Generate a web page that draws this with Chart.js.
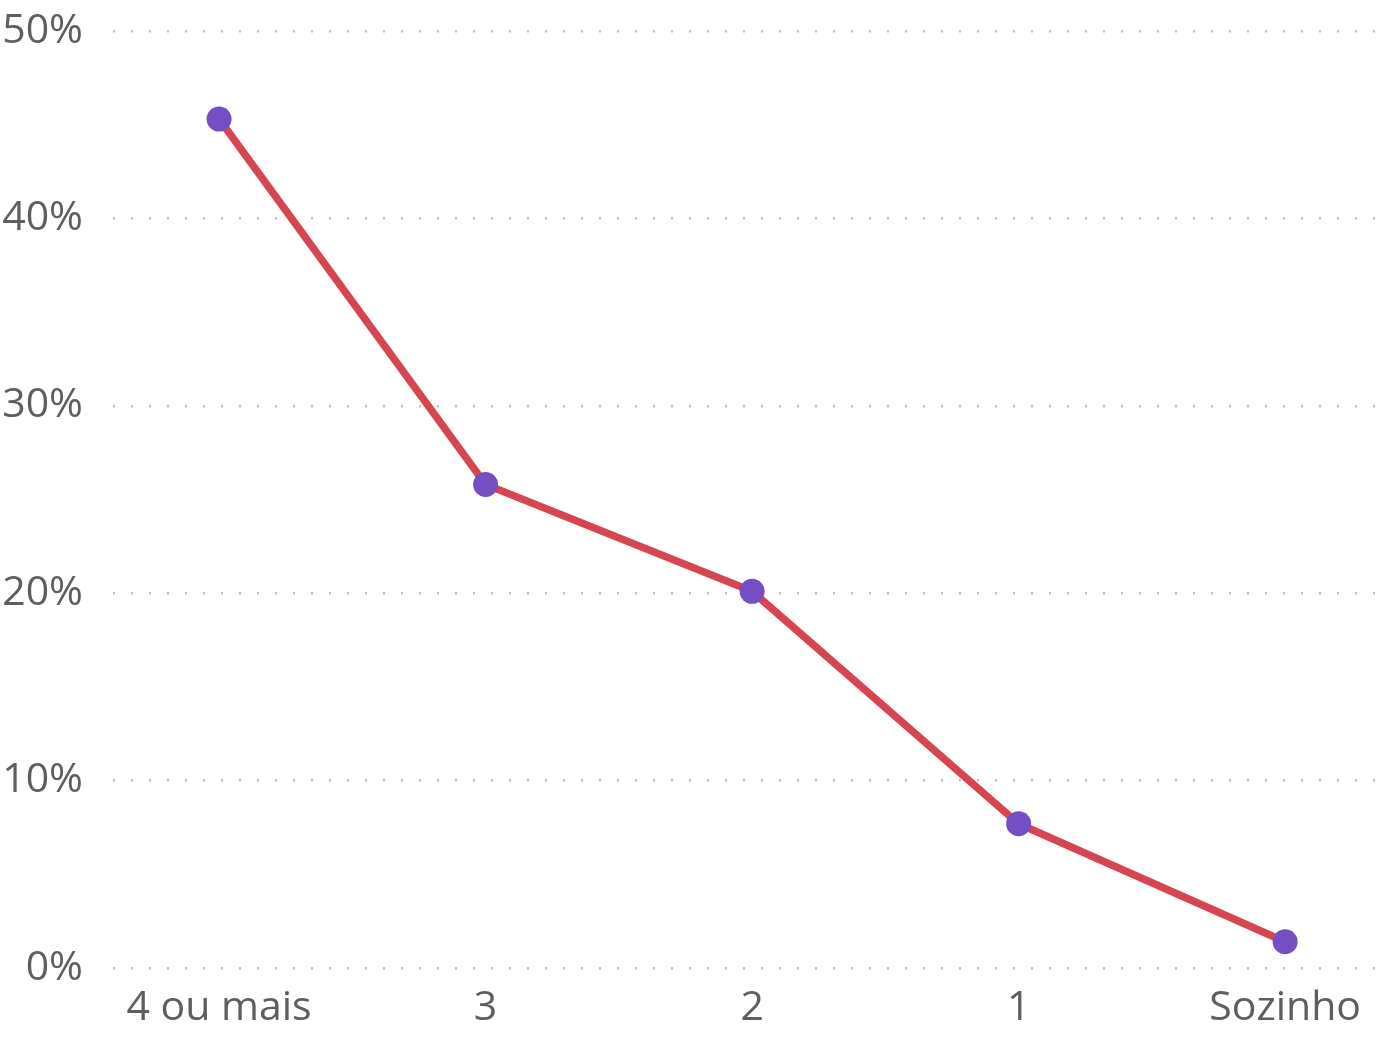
<!DOCTYPE html>
<html>
<head>
<meta charset="utf-8">
<script src="https://cdn.jsdelivr.net/npm/chart.js@4/dist/chart.umd.min.js"></script>
<style>
html,body{margin:0;padding:0;background:#fff;}
#wrap{width:1382px;height:1038px;position:relative;}
</style>
</head>
<body>
<div id="wrap"><canvas id="c"></canvas></div>
<script>
const categories = ["4 ou mais", "3", "2", "1", "Sozinho"];
const values = [45.3, 25.8, 20.1, 7.7, 1.4];
const yTicks = [0, 10, 20, 30, 40, 50];

const points = categories.map((c, i) => ({x: i, y: values[i]}));
const FONT = '"Open Sans", "Noto Sans", sans-serif';

new Chart(document.getElementById('c'), {
  type: 'line',
  data: {
    datasets: [{
      data: points,
      borderColor: '#D64550',
      borderWidth: 7.5,
      pointBackgroundColor: '#744EC2',
      pointBorderColor: '#744EC2',
      pointBorderWidth: 0,
      pointRadius: 12.5,
      tension: 0,
      fill: false,
      clip: false
    }]
  },
  options: {
    responsive: true,
    maintainAspectRatio: false,
    animation: false,
    layout: {autoPadding: false, padding: {top: 31, right: 2, left: 0, bottom: 0}},
    plugins: {legend: {display: false}, tooltip: {enabled: false}},
    scales: {
      x: {
        type: 'linear',
        min: -0.398,
        max: 4.356,
        afterBuildTicks: (s) => { s.ticks = categories.map((_, i) => ({value: i})); },
        afterFit: (s) => { s.paddingLeft = 0; s.paddingRight = 0; s.height = 70; },
        ticks: {
          callback: (v) => categories[v],
          color: '#605E5C',
          font: {family: FONT, size: 41},
          padding: 16,
          maxRotation: 0,
          autoSkip: false
        },
        grid: {display: false, drawTicks: false},
        border: {display: false}
      },
      y: {
        min: 0,
        max: 50,
        afterBuildTicks: (s) => { s.ticks = yTicks.map(v => ({value: v})); },
        afterFit: (s) => { s.width = 113; s.paddingTop = 0; s.paddingBottom = 0; },
        ticks: {
          callback: (v) => v + '%',
          color: '#605E5C',
          font: {family: FONT, size: 41},
          padding: 30
        },
        grid: {color: '#BDBDBD', lineWidth: 2.5, drawTicks: false},
        border: {display: false, dash: [2, 16]}
      }
    }
  }
});
</script>
</body>
</html>
